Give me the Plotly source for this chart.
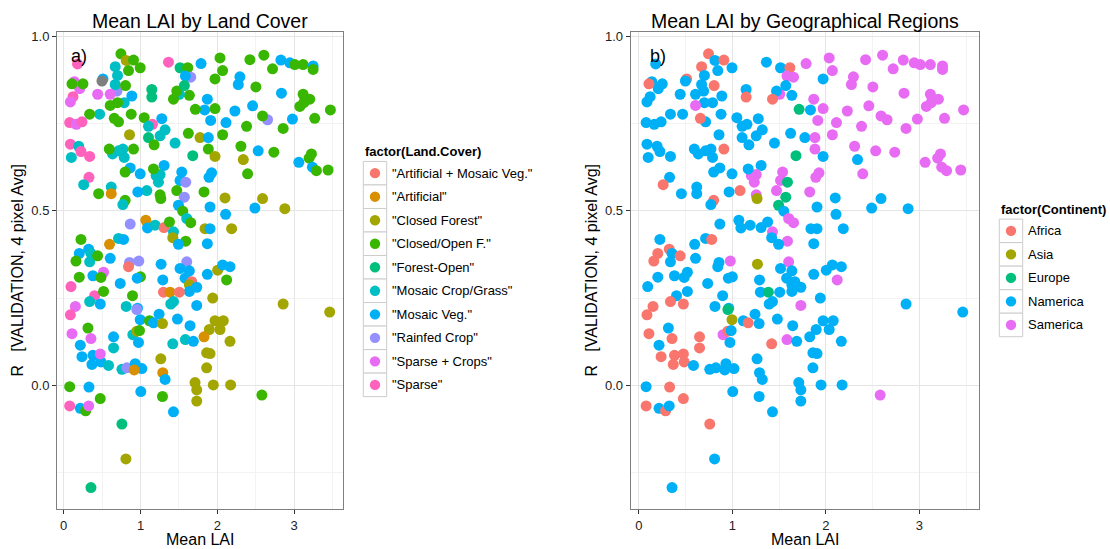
import plotly.graph_objects as go

W, H = 1110, 549

mean_lai = [
    0.18, 0.745, 0.814, 0.909, 0.996, 0.844, 0.671, 1.364, 1.515, 1.615,
    1.654, 1.584, 1.788, 2.035, 2.069, 1.97, 2.424, 2.606, 2.719, 2.827,
    2.944, 3.009, 3.117, 3.247, 3.247, 2.294, 2.273, 2.502, 2.835, 3.117,
    3.203, 3.126, 3.074, 3.472, 3.268, 2.978, 2.857, 2.654, 2.589, 2.459,
    2.229, 2.381, 2.113, 1.97, 1.87, 1.835, 1.913, 1.714, 1.636, 1.506,
    1.472, 1.571, 1.429, 1.147, 1.147, 1.277, 1.048, 1.156, 1.104, 1.104,
    1.32, 1.255, 1.177, 1.45, 1.623, 1.775, 1.883, 2.069, 1.883, 1.97,
    2.307, 2.338, 2.532, 2.736, 3.225, 3.195, 3.061, 3.238, 3.29, 3.442,
    2.394, 1.926, 1.892, 1.537, 1.515, 1.589, 1.472, 1.571, 1.494, 1.55,
    1.602, 1.654, 1.827, 1.905, 2.10, 2.108, 2.589, 2.489, 2.879, 1.84,
    1.905, 2.186, 1.307, 1.255, 1.203, 1.234, 1.169, 0.996, 0.866, 0.80,
    1.082, 0.965, 1.255, 1.264, 0.771, 0.788, 0.714, 0.636, 0.593, 0.909,
    0.857, 0.714, 0.658, 0.879, 0.887, 0.788, 0.701, 0.606, 0.693, 0.671,
    0.805, 0.701, 0.511, 0.498, 0.442, 0.606, 0.468, 0.338, 0.208, 0.139,
    0.108, 0.251, 0.121, 0.087, 0.078, 0.165, 0.238, 0.087, 0.10, 0.195,
    0.225, 0.338, 0.329, 0.26, 0.455, 0.619, 0.619, 0.80, 0.77, 0.866,
    1.069, 1.091, 1.19, 1.307, 1.377, 1.429, 1.42, 1.589, 1.494, 1.87,
    0.714, 0.779, 0.597, 0.225, 0.203, 0.325, 0.355, 0.338, 0.16, 0.442,
    0.606, 0.857, 0.978, 0.844, 1.268, 1.602, 1.515, 1.636, 1.87, 2.004,
    2.069, 2.165, 0.519, 0.203, 0.381, 0.485, 0.736, 1.0, 0.957, 1.29,
    1.58, 1.667, 1.636, 1.732, 1.636, 2.121, 0.095, 0.403, 0.519, 0.338,
    0.476, 0.152, 0.087, 0.814, 0.961, 0.952, 0.896, 1.299, 1.385, 1.506,
    1.394, 1.429, 1.242, 0.996, 1.117, 1.169, 1.286, 1.481, 1.732, 1.94,
    1.645, 1.97, 2.078, 1.896, 2.035, 2.165, 2.857, 3.463, 0.316, 0.108,
    0.355, 0.216, 0.238, 0.381, 0.368, 0.485, 0.476, 0.584, 0.649, 0.649,
    0.9, 0.952, 0.987, 0.974, 0.758, 0.823, 0.931, 1.017, 0.918, 1.264,
    1.29, 1.32, 1.584, 1.688, 1.42, 1.827, 1.861, 1.905, 1.861, 1.71,
    1.732, 1.732, 1.948, 2.173, 2.58, 0.078, 0.329, 0.476, 0.078, 0.216,
    0.286, 0.325, 1.004, 1.286, 1.429, 0.758, 0.81, 0.355, 1.68,
]

r_validation = [
    0.921, 0.950, 0.931, 0.932, 0.910, 0.902, 0.913, 0.926, 0.910, 0.910,
    0.883, 0.886, 0.922, 0.938, 0.902, 0.878, 0.933, 0.946, 0.907, 0.932,
    0.924, 0.919, 0.919, 0.915, 0.905, 0.884, 0.862, 0.855, 0.837, 0.834,
    0.820, 0.810, 0.799, 0.789, 0.765, 0.763, 0.736, 0.761, 0.772, 0.801,
    0.786, 0.742, 0.753, 0.793, 0.820, 0.789, 0.759, 0.791, 0.831, 0.834,
    0.843, 0.859, 0.820, 0.848, 0.826, 0.764, 0.767, 0.748, 0.742, 0.710,
    0.732, 0.715, 0.689, 0.694, 0.722, 0.710, 0.710, 0.718, 0.677, 0.656,
    0.685, 0.647, 0.672, 0.668, 0.663, 0.651, 0.639, 0.625, 0.615, 0.617,
    0.606, 0.609, 0.596, 0.611, 0.587, 0.582, 0.558, 0.539, 0.516, 0.499,
    0.478, 0.466, 0.554, 0.511, 0.537, 0.49, 0.535, 0.508, 0.506, 0.449,
    0.449, 0.449, 0.630, 0.604, 0.601, 0.582, 0.620, 0.606, 0.623, 0.611,
    0.558, 0.554, 0.546, 0.535, 0.677, 0.653, 0.672, 0.663, 0.677, 0.677,
    0.718, 0.755, 0.765, 0.777, 0.829, 0.810, 0.810, 0.802, 0.843, 0.862,
    0.859, 0.888, 0.878, 0.872, 0.834, 0.834, 0.777, 0.777, 0.85, 0.870,
    0.864, 0.864, 0.827, 0.812, 0.753, 0.748, 0.755, 0.691, 0.653, 0.685,
    0.670, 0.656, 0.596, 0.575, 0.549, 0.568, 0.549, 0.530, 0.518, 0.462,
    0.473, 0.451, 0.459, 0.452, 0.468, 0.44, 0.423, 0.413, 0.404, 0.406,
    0.421, 0.418, 0.404, 0.418, 0.378, 0.390, 0.378, 0.354, 0.356, 0.371,
    0.364, 0.352, 0.356, 0.340, 0.347, 0.354, 0.335, 0.328, 0.318, 0.330,
    0.345, 0.340, 0.324, 0.310, 0.314, 0.309, 0.292, 0.311, 0.307, 0.302,
    0.307, 0.297, 0.288, 0.281, 0.269, 0.302, 0.283, 0.257, 0.269, 0.240,
    0.233, 0.226, 0.202, 0.226, 0.221, 0.217, 0.257, 0.267, 0.267, 0.267,
    0.233, 0.240, 0.204, 0.188, 0.185, 0.179, 0.177, 0.190, 0.229, 0.250,
    0.171, 0.185, 0.185, 0.160, 0.160, 0.126, 0.233, 0.210, 0.164, 0.148,
    0.134, 0.115, 0.082, 0.086, 0.060, 0.067, 0.090, 0.057, 0.139, 0.107,
    0.145, 0.155, 0.157, 0.123, 0.046, 0.050, 0.062, 0.048, 0.044, 0.076,
    0.036, 0.017, 0.131, 0.126, 0.119, 0.139, 0.093, 0.091, 0.050, 0.008,
    -0.013, -0.045, 0.001, 0.001, -0.028, -0.004, -0.005, -0.038, -0.059, -0.066,
    -0.073, -0.059, -0.018, -0.032, -0.076, -0.111, -0.211, -0.293, 0.658,
]

# land cover code per point (N = missing value)
land_cover = list(
    "SGCGGGMSFG" "PVVGGGGGGV" "VGGVGVVGVG" "GGGGGVGPGV" "VGVGVVVGGM"
    "GFGFFVGSMF" "MMGMGCVGGC" "GCVGGGVVGG" "GVVVVPGPVG" "MGGVCVCVCC"
    "VCVMMMGVVG" "MVGGMMMMGG" "CGGGVMGGPM" "GMVNXXMGXX" "GGSXSXSSMM"
    "SSSMGMRGMP" "RVMAGMCGVV" "MVRGVVMMGG" "VPPAVPVVVC" "VVXGVGVGVV"
    "VACVVGSSGM" "VXSMVPGARA" "MMVVGVCVVC" "VCCCCCCCGX" "XVVVVVXMVM"
    "MCGVMPVVRC" "RVMVMRCCCC" "CCCCGGVGSV" "GXVGVFCFF"
)

# continent code per point
continent = list(
    "nanannanna" "mmmmmnmmmm" "mmmmmmmmmm" "mmmmmmmmmm" "mmmmmnmenm"
    "nnanannnnn" "nnnnnnmmmn" "mnmmmmmmmm" "mmmmmemeen" "mmmnnnnnnn"
    "nnnmmmnnnn" "anmsnnnnna" "nnannnnmnn" "anannnnnnn" "annnnnnnnn"
    "nnnannnann" "nnnnnmnmnn" "nannaannaa" "nnmnsmnnnn" "nnnnnnnnnn"
    "nnnnnmnnna" "aaannennen" "nnnsnannmn" "nnnnnnnnna" "anaaaaanaa"
    "mannnnnnnn" "nnmnannnnn" "nnnnmnaaan" "annnnanne"
)

land_cover_codes = ["A", "R", "C", "G", "F", "M", "V", "P", "X", "S"]
land_cover_labels = ['"Artificial + Mosaic Veg."', '"Artificial"', '"Closed Forest"',
                     '"Closed/Open F."', '"Forest-Open"', '"Mosaic Crop/Grass"',
                     '"Mosaic Veg."', '"Rainfed Crop"', '"Sparse + Crops"', '"Sparse"']
land_cover_colors = ["#F8766D", "#D89000", "#A3A500", "#39B600", "#00BF7D",
                     "#00BFC4", "#00B0F6", "#9590FF", "#E76BF3", "#FF62BC"]

continent_codes = ["a", "s", "e", "n", "m"]
continent_labels = ["Africa", "Asia", "Europe", "Namerica", "Samerica"]
continent_colors = ["#F8766D", "#A3A500", "#00BF7D", "#00B0F6", "#E76BF3"]

lc_color = dict(zip(land_cover_codes, land_cover_colors))
lc_color["N"] = "#7F7F7F"
ct_color = dict(zip(continent_codes, continent_colors))

FONT = "Liberation Sans, Arial, sans-serif"
MS = 11

fig = go.Figure()
fig.add_trace(go.Scatter(
    x=mean_lai, y=r_validation, mode="markers", xaxis="x", yaxis="y",
    marker=dict(size=MS, color=[lc_color[c] for c in land_cover], line=dict(width=0)),
    showlegend=False, hoverinfo="skip"))
fig.add_trace(go.Scatter(
    x=mean_lai, y=r_validation, mode="markers", xaxis="x2", yaxis="y2",
    marker=dict(size=MS, color=[ct_color[c] for c in continent], line=dict(width=0)),
    showlegend=False, hoverinfo="skip"))

def px(v):
    return v / W

def py(v):
    return 1 - v / H

XR = [-0.087, 3.64]
YR = [-0.355, 1.012]
ydom = [py(509), py(29.3)]

axis_common = dict(
    showline=True, linecolor="#7F7F7F", linewidth=1, mirror=True,
    ticks="outside", ticklen=4, tickwidth=1, tickcolor="#333333",
    tickfont=dict(family=FONT, size=13, color="#222222"),
    showgrid=True, gridcolor="#E5E5E5", gridwidth=1, zeroline=False,
    fixedrange=True,
)

fig.update_layout(
    width=W, height=H, margin=dict(l=0, r=0, t=0, b=0),
    paper_bgcolor="white", plot_bgcolor="white", showlegend=False,
    font=dict(family=FONT),
    xaxis=dict(domain=[px(57), px(343.3)], range=XR, anchor="y", tick0=0, dtick=1,
               minor=dict(dtick=0.5, tick0=0, showgrid=True, gridcolor="#F3F3F3"), **axis_common),
    yaxis=dict(domain=ydom, range=YR, anchor="x", tick0=0, dtick=0.5, tickformat=".1f",
               minor=dict(dtick=0.25, tick0=0, showgrid=True, gridcolor="#F3F3F3"), **axis_common),
    xaxis2=dict(domain=[px(630.7), px(979.3)], range=XR, anchor="y2", tick0=0, dtick=1,
                minor=dict(dtick=0.5, tick0=0, showgrid=True, gridcolor="#F3F3F3"), **axis_common),
    yaxis2=dict(domain=ydom, range=YR, anchor="x2", tick0=0, dtick=0.5, tickformat=".1f",
                minor=dict(dtick=0.25, tick0=0, showgrid=True, gridcolor="#F3F3F3"), **axis_common),
)

ann = []
shapes = []

def text(x, y, s, size, xanchor="center", angle=0, bold=False, xref="paper", yref="paper"):
    ann.append(dict(x=x, y=y, xref=xref, yref=yref, text=("<b>%s</b>" % s) if bold else s,
                    showarrow=False, xanchor=xanchor, yanchor="middle", textangle=angle,
                    font=dict(family=FONT, size=size, color="black")))

# titles
text(px(200), py(18), "Mean LAI by Land Cover", 19.5)
text(px(805), py(18), "Mean LAI by Geographical Regions", 19.5)
# axis titles
text(px(200), py(539), "Mean LAI", 16)
text(px(805), py(539), "Mean LAI", 16)
ytitle = "R\u00a0\u00a0\u00a0[VALIDATION, 4 pixel Avg]"
text(px(18), py(269), ytitle, 16, angle=-90)
text(px(592), py(269), ytitle, 16, angle=-90)
# panel tags
text(0.2, 0.945, "a)", 18, xref="x", yref="y")
text(0.2, 0.945, "b)", 18, xref="x2", yref="y2")

# manual legends (ggplot-style keys)
STEP = 23.65

def legend(x_box, y_title, y_top, title, labels, colors):
    text(px(x_box), py(y_title), title, 13, xanchor="left", bold=True)
    for i, (lab, col) in enumerate(zip(labels, colors)):
        y0 = y_top + STEP * i
        shapes.append(dict(type="rect", xref="paper", yref="paper",
                           x0=px(x_box), x1=px(x_box + 23.4), y0=py(y0), y1=py(y0 + STEP),
                           line=dict(color="#CCCCCC", width=1), fillcolor="white", layer="above"))
        cx, cy = x_box + 11.7, y0 + STEP / 2
        r = 5.2
        shapes.append(dict(type="circle", xref="paper", yref="paper",
                           x0=px(cx - r), x1=px(cx + r), y0=py(cy + r), y1=py(cy - r),
                           line=dict(width=0), fillcolor=col, layer="above"))
        text(px(x_box + 27), py(cy), lab, 13, xanchor="left")

legend(363.3, 149, 159.3, "factor(Land.Cover)", land_cover_labels, land_cover_colors)
legend(999.3, 208, 217.3, "factor(Continent)", continent_labels, continent_colors)

fig.update_layout(annotations=ann, shapes=shapes)
fig.write_html("out.html")
